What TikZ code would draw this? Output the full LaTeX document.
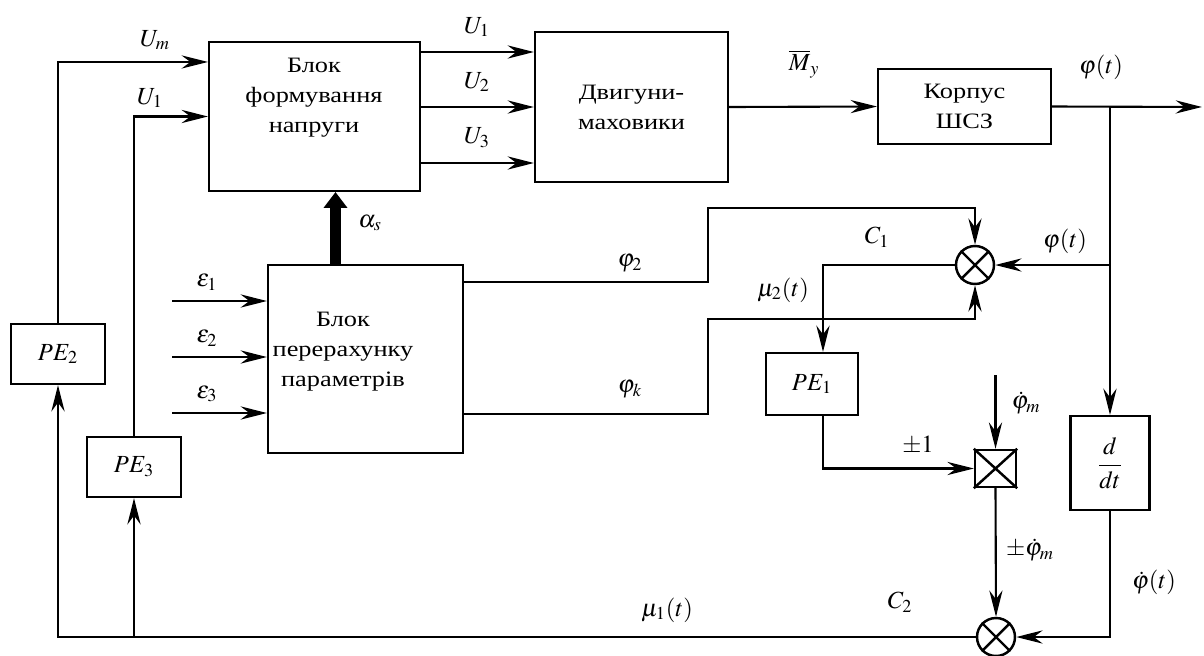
\documentclass[tikz,border=0pt]{standalone}
\usepackage{amsmath}
\usepackage{mathptmx}
\usepackage{fontspec}
\setmainfont{Liberation Serif}
\newfontfamily\blkfont[FakeStretch=1.2]{Liberation Serif}
\usetikzlibrary{arrows.meta, positioning, calc}

\tikzset{
  box/.style={draw, line width=1.2pt, inner sep=0pt},
  txt/.style={font=\blkfont\fontsize{12.5}{17}\selectfont, align=center},
  lbl/.style={font=\fontsize{14}{16}\selectfont, inner sep=1pt},
  arr/.style={line width=1.2pt, -{Stealth[length=15pt, width=7.5pt, inset=5pt]}},
  fat/.style={line width=6.5pt, -{Triangle[length=9pt, width=13pt]}},
  sum/.style={draw, circle, line width=1.4pt, minimum size=0.76cm, inner sep=0pt},
}

\begin{document}
\begin{tikzpicture}[x=0.02cm, y=-0.02cm]
\useasboundingbox (0,0) rectangle (1204,656);

% blocks
\node[box, minimum width=4.22cm, minimum height=2.98cm] (form) at (314.5,116.5) {};
\node[txt] (formtxt) at (314,98) {Блок\\формування\\напруги};
\node[box, txt, minimum width=3.86cm, minimum height=3cm] (motor) at (631.5,107) {Двигуни-\\маховики};
\node[box, txt, minimum width=3.46cm, minimum height=1.5cm] (body) at (964.5,106.5) {Корпус\\ШСЗ};
\node[box, minimum width=3.9cm, minimum height=3.76cm] (recalc) at (365.5,359) {};
\node[txt] (recalctxt) at (343,352) {Блок\\перерахунку\\параметрів};
\node[box, lbl, minimum width=1.88cm, minimum height=1.2cm] (pe2) at (58,354) {$PE_2$};
\node[box, lbl, minimum width=1.88cm, minimum height=1.2cm] (pe3) at (134,467) {$PE_3$};
\node[box, lbl, minimum width=1.84cm, minimum height=1.24cm] (pe1) at (812,384) {$PE_1$};
\node[box, lbl, minimum width=1.58cm, minimum height=1.88cm] (ddt) at (1110,463) {$\dfrac{d}{dt}$};
\node[box, line width=1.4pt, minimum width=0.82cm, minimum height=0.74cm] (mult) at (995.5,468.5) {};
\node[sum] (c1) at (975,265) {};
\node[sum] (c2) at (996,637) {};
\draw[line width=1.4pt] (mult.north west) -- (mult.south east) (mult.north east) -- (mult.south west);
\foreach \s in {c1,c2}
  \draw[line width=1.4pt] (\s.north west) -- (\s.south east) (\s.north east) -- (\s.south west);

% voltage block
\draw[arr] (pe2.north) |- ($(form.north west)+(0,21)$);
\draw[arr] (pe3.north) |- (form.west);
\node[lbl] (lum) at (155,40) {$U_m$};
\node[lbl] (lu1) at (150,98) {$U_1$};
\foreach \yy/\n in {52/1,107/2,163/3}{
  \coordinate (y\n) at (0,\yy);
  \draw[arr] (form.east |- y\n) -- (motor.west |- y\n);
  \node[lbl] (uo\n) at (477,\yy-25) {$U_\n$};
}
\draw[arr] (motor.east) -- (body.west);
\node[lbl] (lmy) at (804,64) {$\overline{M}_y$};

% output and feedback
\coordinate (out) at (1202,107);
\coordinate (br) at (1110,107);
\draw[arr] (body.east) -- (out);
\node[lbl] (lphi) at (1101,67) {$\varphi(t)$};
\draw[arr] (br) -- (ddt.north);
\draw[arr] (br |- c1) -- (c1.east);
\node[lbl] (lphi2) at (1065,241) {$\varphi(t)$};

\draw[arr] ($(recalc.north east)+(0,18)$) -| (708,208) -| (c1.north);
\draw[arr] ($(recalc.south east)+(0,-40)$) -| (708,319) -| (c1.south);
\node[lbl] (lphi2b) at (630,263) {$\varphi_2$};
\node[lbl] (lphik) at (630,389) {$\varphi_k$};
\node[lbl] (lc1) at (877,237) {$C_1$};

\draw[arr] (c1.west) -| ($(pe1.north)+(11,0)$);
\node[lbl] (lmu2) at (783,290) {$\mu_2(t)$};
\draw[arr] ($(pe1.south)+(11,0)$) |- (mult.west);
\node[lbl] (lpm1) at (918,445) {$\pm1$};

\coordinate (phm) at (995.5,375);
\draw[arr] (phm) -- (mult.north);
\node[lbl] (lphm) at (1026,403) {$\dot{\varphi}_m$};
\draw[arr] (mult.south) -- (c2.north);
\node[lbl] (lpphm) at (1030,550) {$\pm\dot{\varphi}_m$};
\node[lbl] (lc2) at (900,602) {$C_2$};
\draw[arr] (ddt.south) |- (c2.east);
\node[lbl] (lphid) at (1154,582) {$\dot{\varphi}(t)$};

\draw[arr] (c2.west) -| (pe2.south);
\draw[arr] (pe3 |- c2) -- (pe3.south);
\node[lbl] (lmu1) at (667,610) {$\mu_1(t)$};

% recalculation block
\foreach \yy/\n in {301/1,357/2,413/3}{
  \coordinate (e\n) at (172,\yy);
  \draw[arr] (e\n) -- (recalc.west |- e\n);
  \node[lbl] (le\n) at (207,\yy-19) {$\varepsilon_\n$};
}
\draw[fat] ($(recalc.north)+(-30,0)$) coordinate (a0) -- (a0 |- form.south);
\node[lbl] (las) at (370,223) {$\alpha_s$};
\end{tikzpicture}
\end{document}
